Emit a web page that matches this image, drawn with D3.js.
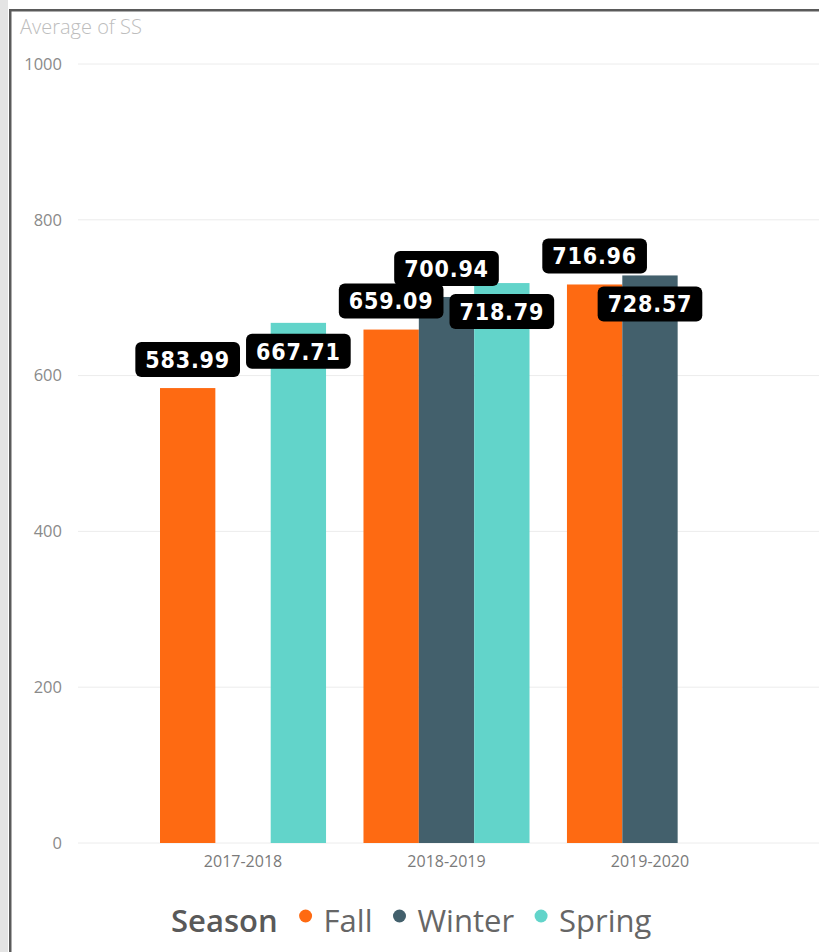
<!DOCTYPE html>
<html><head><meta charset="utf-8">
<script src="https://cdn.jsdelivr.net/npm/d3@7"></script>
<style>
html,body{margin:0;padding:0;background:#fff;}
svg{display:block;}
</style></head>
<body>
<script>
// ---- data ----
const categories = ["2017-2018", "2018-2019", "2019-2020"];
const seasons = ["Fall", "Winter", "Spring"];
const fallValues = [583.99, 659.09, 716.96];
const winterValues = [null, 700.94, 728.57];
const springValues = [667.71, 718.79, null];
// data label placement chosen by the original chart (above bar / inside bar top)
const fallLabelPlace = ["above", "above", "above"];
const winterLabelPlace = [null, "above", "inside"];
const springLabelPlace = ["inside", "inside", null];
const yTicks = [0, 200, 400, 600, 800, 1000];
const yTitle = "Average of SS";
const legendTitle = "Season";

const colors = {Fall: "#FE6A12", Winter: "#43606C", Spring: "#62D4CA"};
const seriesValues = {Fall: fallValues, Winter: winterValues, Spring: springValues};
const seriesPlace = {Fall: fallLabelPlace, Winter: winterLabelPlace, Spring: springLabelPlace};

const W = 819, H = 952;
const svg = d3.select("body").append("svg").attr("width", W).attr("height", H);

// frame
svg.append("rect").attr("x", 0).attr("y", 0).attr("width", 8).attr("height", H).attr("fill", "#e4e4e4");
svg.append("rect").attr("x", 9).attr("y", 9).attr("width", 2.5).attr("height", H - 9).attr("fill", "#5a5a5a");
svg.append("rect").attr("x", 9).attr("y", 9).attr("width", W - 9).attr("height", 2.5).attr("fill", "#5a5a5a");

const y = d3.scaleLinear().domain([0, 1000]).range([843, 64]);
const x = d3.scaleBand().domain(categories).range([78, 815]).paddingInner(0.184).paddingOuter(0.403);
const xs = d3.scaleBand().domain(seasons).range([0, x.bandwidth()]);

// gridlines
svg.append("g").selectAll("line").data(yTicks).join("line")
  .attr("x1", 78).attr("x2", W).attr("y1", d => y(d)).attr("y2", d => y(d))
  .attr("stroke", "#ececec").attr("stroke-width", 1);

// y axis labels
const yAxis = svg.append("g").attr("transform", "translate(62,0)")
  .call(d3.axisLeft(y).tickValues(yTicks).tickFormat(d3.format("d")).tickSize(0).tickPadding(0));
yAxis.select(".domain").remove();
yAxis.selectAll("text").attr("font-family", "'Open Sans', sans-serif").attr("font-size", 16.5)
  .attr("fill", "#8a8a8a").attr("dy", "0.32em");

// y title
svg.append("text").attr("x", 20).attr("y", 34).text(yTitle)
  .attr("font-family", "'Open Sans', sans-serif").attr("font-size", 20).attr("font-weight", 300)
  .attr("fill", "#bdbdbd");

// x axis
const xAxis = svg.append("g").attr("transform", "translate(0,854)")
  .call(d3.axisBottom(x).tickSize(0).tickPadding(0));
xAxis.select(".domain").remove();
xAxis.selectAll("text").attr("font-family", "'Open Sans', sans-serif").attr("font-size", 16)
  .attr("fill", "#7a7a7a").attr("dy", "0.8em");

// bars
const flat = [];
categories.forEach((c, i) => seasons.forEach(s => {
  const v = seriesValues[s][i];
  if (v != null) flat.push({cat: c, season: s, value: v, place: seriesPlace[s][i]});
}));

svg.append("g").selectAll("rect").data(flat).join("rect")
  .attr("x", d => x(d.cat) + xs(d.season))
  .attr("y", d => y(d.value))
  .attr("width", xs.bandwidth())
  .attr("height", d => y(0) - y(d.value))
  .attr("fill", d => colors[d.season]);

// data labels
const lg = svg.append("g");
const boxH = 35, gap = 11;
flat.forEach(d => {
  const cx = x(d.cat) + xs(d.season) + xs.bandwidth() / 2;
  const top = d.place === "above" ? y(d.value) - gap - boxH : y(d.value) + gap;
  const g = lg.append("g");
  const rect = g.append("rect").attr("fill", "#000").attr("rx", 6).attr("ry", 6);
  const t = g.append("text").text(d.value.toFixed(2))
    .attr("x", cx).attr("y", top + boxH / 2).attr("dy", "0.36em")
    .attr("text-anchor", "middle")
    .attr("font-family", "'DejaVu Sans Condensed', 'DejaVu Sans', sans-serif")
    .attr("font-weight", "bold").attr("font-size", 23).attr("letter-spacing", 0.8)
    .attr("fill", "#fff");
  const bw = t.node().getComputedTextLength() + 20;
  rect.attr("x", cx - bw / 2).attr("y", top).attr("width", bw).attr("height", boxH);
});

// legend
const leg = svg.append("g").attr("font-family", "'Open Sans', sans-serif").attr("font-size", 31);
const ly = 932;
const lt = leg.append("text").attr("x", 171).attr("y", ly).text(legendTitle)
  .attr("font-weight", 600).attr("fill", "#595959");
let lx = 171 + lt.node().getComputedTextLength() + 21;
seasons.forEach((s, i) => {
  leg.append("circle").attr("cx", lx + 7).attr("cy", ly - 16).attr("r", 6.5).attr("fill", colors[s]);
  const tt = leg.append("text").attr("x", lx + 25).attr("y", ly).text(s).attr("fill", "#666");
  lx = lx + 25 + tt.node().getComputedTextLength() + 20;
});
</script>
</body></html>
